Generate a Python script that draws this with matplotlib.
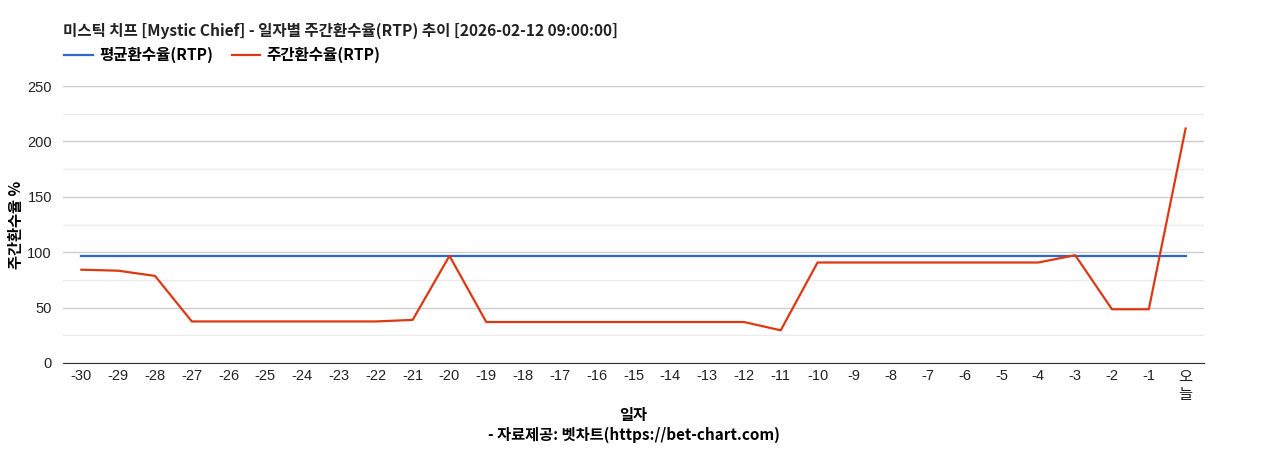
import matplotlib
matplotlib.use('Agg')
import matplotlib.pyplot as plt
from matplotlib.ticker import MultipleLocator

plt.rcParams['font.family'] = ['Liberation Sans', 'Noto Sans CJK KR', 'DejaVu Sans']

days = [str(d) for d in range(-30, 0)] + ['오\n늘']
avg_rtp = [96.7] * 31
weekly_rtp = [84.2, 83.3, 78.6, 37.5, 37.5, 37.5, 37.5, 37.5, 37.5, 38.9,
              96.7, 37.0, 37.0, 37.0, 37.0, 37.0, 37.0, 37.0, 37.0, 29.5,
              90.7, 90.7, 90.7, 90.7, 90.7, 90.7, 90.7, 97.3, 48.5, 48.5,
              211.6]

title = '미스틱 치프 [Mystic Chief] - 일자별 주간환수율(RTP) 추이 [2026-02-12 09:00:00]'
kr_font = ['Noto Sans CJK KR', 'DejaVu Sans']

fig = plt.figure(figsize=(12.68, 4.5), dpi=100)
ax = fig.add_axes([63 / 1268, 1 - 363 / 450, (1204 - 63) / 1268, (363 - 86) / 450])

x = list(range(len(days)))
ax.plot(x, avg_rtp, color='#3366cc', linewidth=1.6, label='평균환수율(RTP)', zorder=3)
ax.plot(x, weekly_rtp, color='#dc3912', linewidth=1.6, label='주간환수율(RTP)', zorder=4)

ax.set_xlim(-0.5, len(days) - 0.5)
ax.set_ylim(0, 250)
ax.yaxis.set_major_locator(MultipleLocator(50))
ax.yaxis.set_minor_locator(MultipleLocator(25))
ax.grid(True, which='major', axis='y', color='#cccccc', linewidth=1)
ax.grid(True, which='minor', axis='y', color='#ebebeb', linewidth=1)
ax.set_axisbelow(True)

for side in ['top', 'right', 'left']:
    ax.spines[side].set_visible(False)
ax.spines['bottom'].set_color('#333333')
ax.tick_params(axis='both', which='both', length=0, labelsize=10.5, colors='#222222')
ax.tick_params(axis='y', pad=8)
ax.tick_params(axis='x', pad=4)

ax.set_xticks(x)
ax.set_xticklabels(days)
for lbl in ax.get_xticklabels():
    lbl.set_va('top')
    if not lbl.get_text().startswith('-'):
        lbl.set_family(kr_font)
        lbl.set_fontsize(11)
        lbl.set_linespacing(1.05)
        lbl.set_rotation(0)

ax.set_ylabel('주간환수율 %', family=kr_font, fontsize=11, fontweight='bold', labelpad=2)
ax.set_xlabel('일자\n- 자료제공: 벳차트(https://bet-chart.com)', family=kr_font,
              fontsize=11, fontweight='bold', labelpad=3, linespacing=1.25)

fig.text(63 / 1268, 1 - 31 / 450, title, family=kr_font, fontsize=11.2,
         fontweight='bold', color='#222222', va='center', ha='left')

leg = fig.legend(loc='center left', bbox_to_anchor=(50 / 1268, 1 - 55 / 450),
                 ncol=2, frameon=False, prop={'family': kr_font, 'weight': 'bold', 'size': 11.2},
                 handlelength=1.85, columnspacing=1.2, handletextpad=0.4)

fig.savefig('out.png', dpi=100, facecolor='white')
